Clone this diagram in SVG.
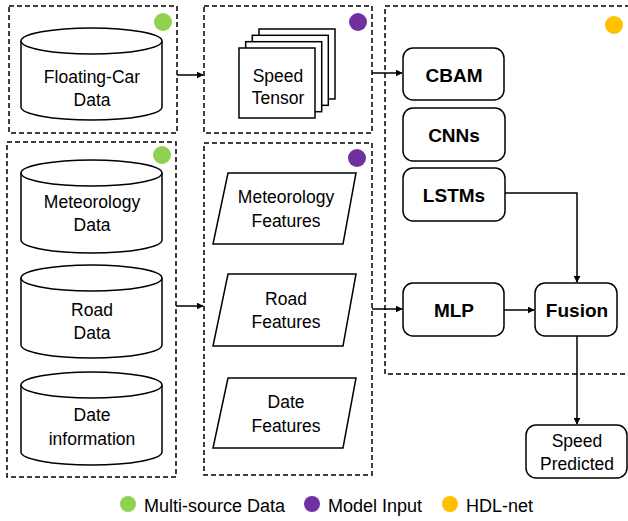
<svg xmlns="http://www.w3.org/2000/svg" width="628" height="521" viewBox="0 0 628 521">
  <style>
    .frame { fill: none; stroke: #000; stroke-width: 1.5; stroke-dasharray: 5 3; }
    .shape { fill: #fff; stroke: #000; stroke-width: 1.5; }
    .txt { font-family: "Liberation Sans", Arial, sans-serif; font-size: 17.5px; text-anchor: middle; fill: #000; }
    .bold { font-family: "Liberation Sans", Arial, sans-serif; font-size: 19px; font-weight: bold; text-anchor: middle; fill: #000; }
    .legend { font-family: "Liberation Sans", Arial, sans-serif; font-size: 18px; fill: #000; }
    .wire { fill: none; stroke: #000; stroke-width: 1.5; }
  </style>
  <defs>
    <marker id="arrow" viewBox="0 0 10 10" refX="9" refY="5" markerWidth="7" markerHeight="7" markerUnits="userSpaceOnUse" orient="auto">
      <path d="M0,0 L10,5 L0,10 z" fill="#000"/>
    </marker>
  </defs>
  <rect width="628" height="521" fill="#fff"/>

  <!-- dashed grouping frames -->
  <g id="frames">
    <rect class="frame" x="9" y="6" width="168" height="127"/>
    <rect class="frame" x="204" y="6" width="168" height="127"/>
    <path class="frame" d="M630,6 H385 V374 H630"/>
    <rect class="frame" x="7" y="142" width="169" height="335"/>
    <rect class="frame" x="204" y="143" width="168" height="332"/>
    <circle cx="163" cy="22" r="9" fill="#92D050"/>
    <circle cx="358" cy="22" r="9" fill="#7030A0"/>
    <circle cx="614" cy="25" r="9" fill="#FFC000"/>
    <circle cx="162" cy="155" r="9" fill="#92D050"/>
    <circle cx="357" cy="158" r="9" fill="#7030A0"/>
  </g>

  <!-- data stores -->
  <g id="floating-car">
    <path class="shape" d="M21,41 V107 A70.5,13 0 0 0 162,107 V41"/>
    <ellipse class="shape" cx="91.5" cy="41" rx="70.5" ry="13"/>
    <text class="txt" x="92" y="83">Floating-Car</text>
    <text class="txt" x="92" y="106">Data</text>
  </g>
  <g id="meteorology-data">
    <path class="shape" d="M21,173 V240 A70.5,13 0 0 0 162,240 V173"/>
    <ellipse class="shape" cx="91.5" cy="173" rx="70.5" ry="13"/>
    <text class="txt" x="92" y="208">Meteorology</text>
    <text class="txt" x="92" y="231">Data</text>
  </g>
  <g id="road-data">
    <path class="shape" d="M21,278 V345 A70.5,13 0 0 0 162,345 V278"/>
    <ellipse class="shape" cx="91.5" cy="278" rx="70.5" ry="13"/>
    <text class="txt" x="92" y="316">Road</text>
    <text class="txt" x="92" y="339">Data</text>
  </g>
  <g id="date-information">
    <path class="shape" d="M21,385 V452 A70.5,13 0 0 0 162,452 V385"/>
    <ellipse class="shape" cx="91.5" cy="385" rx="70.5" ry="13"/>
    <text class="txt" x="92" y="421">Date</text>
    <text class="txt" x="92" y="445">information</text>
  </g>

  <!-- stacked tensor -->
  <g id="speed-tensor">
    <rect class="shape" x="259" y="29" width="76" height="70"/>
    <rect class="shape" x="252.3" y="35.3" width="76" height="70"/>
    <rect class="shape" x="245.7" y="41.7" width="76" height="70"/>
    <rect class="shape" x="239" y="48" width="76" height="70"/>
    <text class="txt" x="278" y="82">Speed</text>
    <text class="txt" x="278" y="104">Tensor</text>
  </g>

  <!-- feature parallelograms -->
  <g id="meteorology-features">
    <polygon class="shape" points="228,173 356,173 343,244 213,244"/>
    <text class="txt" x="286" y="203">Meteorology</text>
    <text class="txt" x="286" y="227">Features</text>
  </g>
  <g id="road-features">
    <polygon class="shape" points="228,274 356,274 343,346 213,346"/>
    <text class="txt" x="286" y="305">Road</text>
    <text class="txt" x="286" y="328">Features</text>
  </g>
  <g id="date-features">
    <polygon class="shape" points="228,378 356,378 343,448 213,448"/>
    <text class="txt" x="286" y="408">Date</text>
    <text class="txt" x="286" y="432">Features</text>
  </g>

  <!-- HDL-net modules -->
  <g id="cbam">
    <rect class="shape" x="403" y="48" width="101" height="52" rx="10"/>
    <text class="bold" x="454" y="82">CBAM</text>
  </g>
  <g id="cnns">
    <rect class="shape" x="403" y="108" width="102" height="53" rx="10"/>
    <text class="bold" x="454" y="142">CNNs</text>
  </g>
  <g id="lstms">
    <rect class="shape" x="403" y="168" width="102" height="53" rx="10"/>
    <text class="bold" x="454" y="202">LSTMs</text>
  </g>
  <g id="mlp">
    <rect class="shape" x="403" y="283" width="101" height="53" rx="10"/>
    <text class="bold" x="454" y="317">MLP</text>
  </g>
  <g id="fusion">
    <rect class="shape" x="535" y="283" width="82" height="53" rx="10"/>
    <text class="bold" x="577" y="317">Fusion</text>
  </g>
  <g id="speed-predicted">
    <rect class="shape" x="526" y="425" width="101" height="53" rx="10"/>
    <text class="txt" x="577" y="447">Speed</text>
    <text class="txt" x="577" y="470">Predicted</text>
  </g>

  <!-- connectors -->
  <g id="connectors">
    <path class="wire" d="M177,75 H203" marker-end="url(#arrow)"/>
    <path class="wire" d="M372,73 H402" marker-end="url(#arrow)"/>
    <path class="wire" d="M176,306 H203" marker-end="url(#arrow)"/>
    <path class="wire" d="M372,309 H402" marker-end="url(#arrow)"/>
    <path class="wire" d="M505,193 H577 V282" marker-end="url(#arrow)"/>
    <path class="wire" d="M504,310 H534" marker-end="url(#arrow)"/>
    <path class="wire" d="M577,336 V424" marker-end="url(#arrow)"/>
  </g>

  <!-- legend -->
  <g id="legend">
    <circle cx="128" cy="504" r="8" fill="#92D050"/>
    <text class="legend" x="144" y="512">Multi-source Data</text>
    <circle cx="312" cy="504" r="8" fill="#7030A0"/>
    <text class="legend" x="328" y="512">Model Input</text>
    <circle cx="450" cy="504" r="8" fill="#FFC000"/>
    <text class="legend" x="466" y="512">HDL-net</text>
  </g>
</svg>
